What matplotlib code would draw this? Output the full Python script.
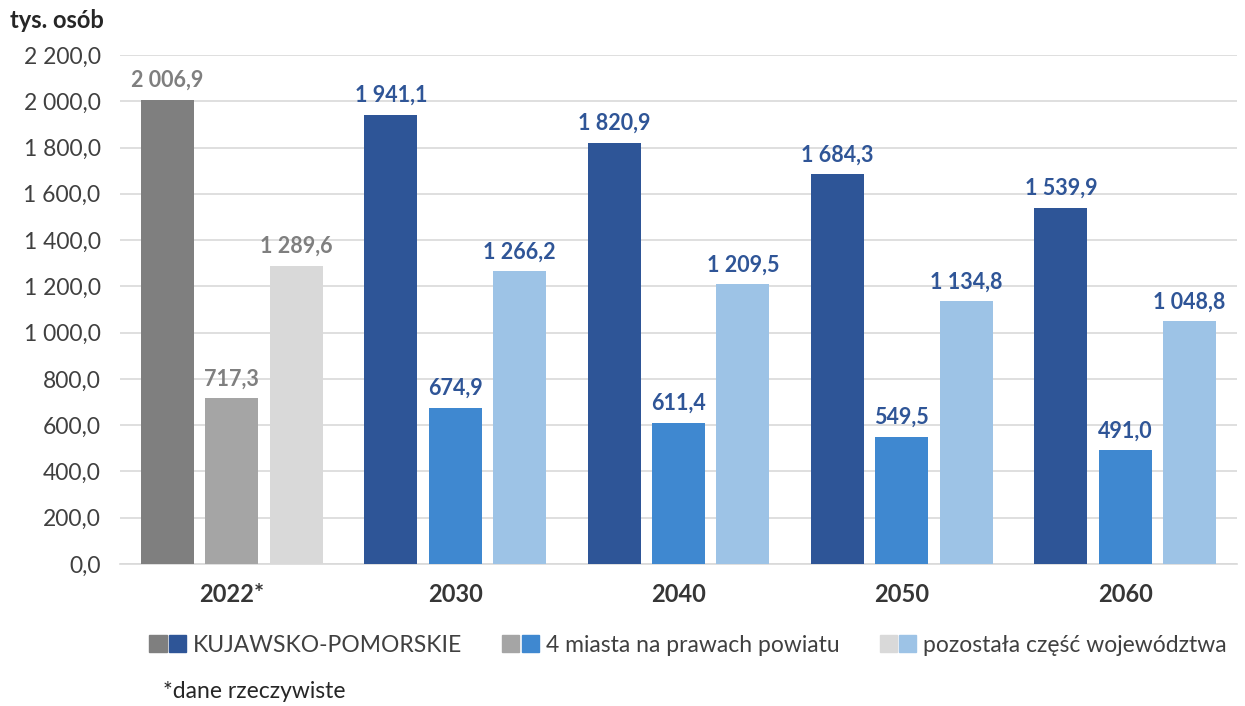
import matplotlib
matplotlib.use("Agg")
import matplotlib.pyplot as plt
from matplotlib.patches import Patch
from matplotlib.legend_handler import HandlerTuple
from matplotlib.ticker import FuncFormatter, MultipleLocator
import numpy as np

plt.rcParams['font.family'] = ['Lato', 'DejaVu Sans']

categories = ["2022*", "2030", "2040", "2050", "2060"]
series_names = ["KUJAWSKO-POMORSKIE", "4 miasta na prawach powiatu", "pozostała część województwa"]
kujawsko = [2006.9, 1941.1, 1820.9, 1684.3, 1539.9]
miasta = [717.3, 674.9, 611.4, 549.5, 491.0]
pozostala = [1289.6, 1266.2, 1209.5, 1134.8, 1048.8]
series = [kujawsko, miasta, pozostala]

blue_cols = ["#2e5597", "#3f88d0", "#9dc3e6"]
gray_cols = ["#7f7f7f", "#a5a5a5", "#d9d9d9"]
label_blue = "#2f5597"
label_gray = "#7f7f7f"

def fmt(v, pos=None):
    return f"{v:,.1f}".replace(",", " ").replace(".", ",")

fig = plt.figure(figsize=(12.45, 7.06), dpi=100)
ax = fig.add_axes([120/1245, 1-564/706, (1237-120)/1245, (564-55)/706])

x = np.arange(len(categories))
w = 0.237
off = 0.288
for i, vals in enumerate(series):
    for j, v in enumerate(vals):
        col = gray_cols[i] if j == 0 else blue_cols[i]
        lc = label_gray if j == 0 else label_blue
        xp = x[j] + (i - 1) * off
        ax.bar(xp, v, width=w, color=col, zorder=3)
        ax.text(xp, v + 38, fmt(v), ha='center', va='bottom', fontsize=15.5,
                fontweight='bold', color=lc)

ax.set_ylim(0, 2200)
ax.set_xlim(-0.5, len(categories) - 0.5)
ax.yaxis.set_major_locator(MultipleLocator(200))
ax.yaxis.set_major_formatter(FuncFormatter(fmt))
ax.grid(axis='y', color='#d9d9d9', linewidth=1.2, zorder=0)
for s in ['top', 'right', 'left']:
    ax.spines[s].set_visible(False)
ax.spines['bottom'].set_color('#d9d9d9')
ax.spines['bottom'].set_linewidth(1.2)
ax.tick_params(axis='y', length=0, labelsize=16.5, colors='#404040', pad=14)
ax.tick_params(axis='x', length=0, labelsize=17, pad=14)
ax.set_xticks(x)
ax.set_xticklabels(categories, fontweight='bold', color='#363636')

fig.text(10/1245, 1-21/706, "tys. osób", fontsize=17, fontweight='bold', color='#262626',
         ha='left', va='center')

handles = [(Patch(color=gray_cols[i]), Patch(color=blue_cols[i])) for i in range(3)]
leg = fig.legend(handles, series_names, loc='center', bbox_to_anchor=(688/1245, 1-645/706),
                 ncol=3, frameon=False, fontsize=16.5,
                 handler_map={tuple: HandlerTuple(ndivide=None, pad=0.1)},
                 handlelength=1.6, handleheight=0.75, handletextpad=0.3, columnspacing=1.75)
for t in leg.get_texts():
    t.set_color('#404040')

fig.text(163/1245, 1-692/706, "*dane rzeczywiste", fontsize=16.5, color='#262626',
         ha='left', va='center')

fig.savefig("out.png", dpi=100)
